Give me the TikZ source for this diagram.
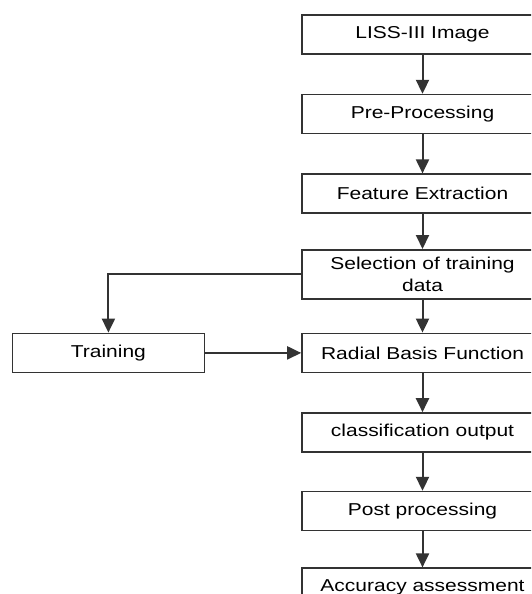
\documentclass[tikz,border=0pt]{standalone}
\usepackage{fontspec}
\setmainfont{Liberation Sans}[FakeStretch=1.22]
\usepackage[svgnames]{xcolor}
\usetikzlibrary{arrows.meta,positioning}

\begin{document}
\begin{tikzpicture}[-{Triangle[length=14pt,width=13pt]}, color=black!80, line width=2pt,
      every node/.append style={draw, rectangle, line width=1.6pt, fill=white, text=black,
        minimum width=241pt, minimum height=39pt, inner sep=2pt, align=center,
        font=\fontsize{17.2}{22}\selectfont}]
    \clip (0,0) rectangle (531pt,-594pt);
    \node (LISS) at (422.5pt,-34.5pt) {LISS-III Image};
    \node (preproc) [below=39pt of LISS] {Pre-Processing};
    \node (feature) [below=39pt of preproc] {Feature Extraction};
    \node (selection) [below=35pt of feature, minimum height=49pt] {Selection of training\\data};
    \node (RBF) [below=33pt of selection] {Radial Basis Function};
    \node (training) [left=96pt of RBF, minimum width=192pt] {Training};
    \node (classif) [below=39pt of RBF] {classification output};
    \node (postproc) [below=38pt of classif] {Post processing};
    \node (accuracy) [below=36pt of postproc] {Accuracy assessment};
    \draw (LISS) -- (preproc);
    \draw (preproc) -- (feature);
    \draw (feature) -- (selection);
    \draw (selection) -- (RBF);
    \draw (selection.west) -| (training.north);
    \draw (training) -- (RBF);
    \draw (RBF) -- (classif);
    \draw (classif) -- (postproc);
    \draw (postproc) -- (accuracy);
  \end{tikzpicture}
\end{document}
